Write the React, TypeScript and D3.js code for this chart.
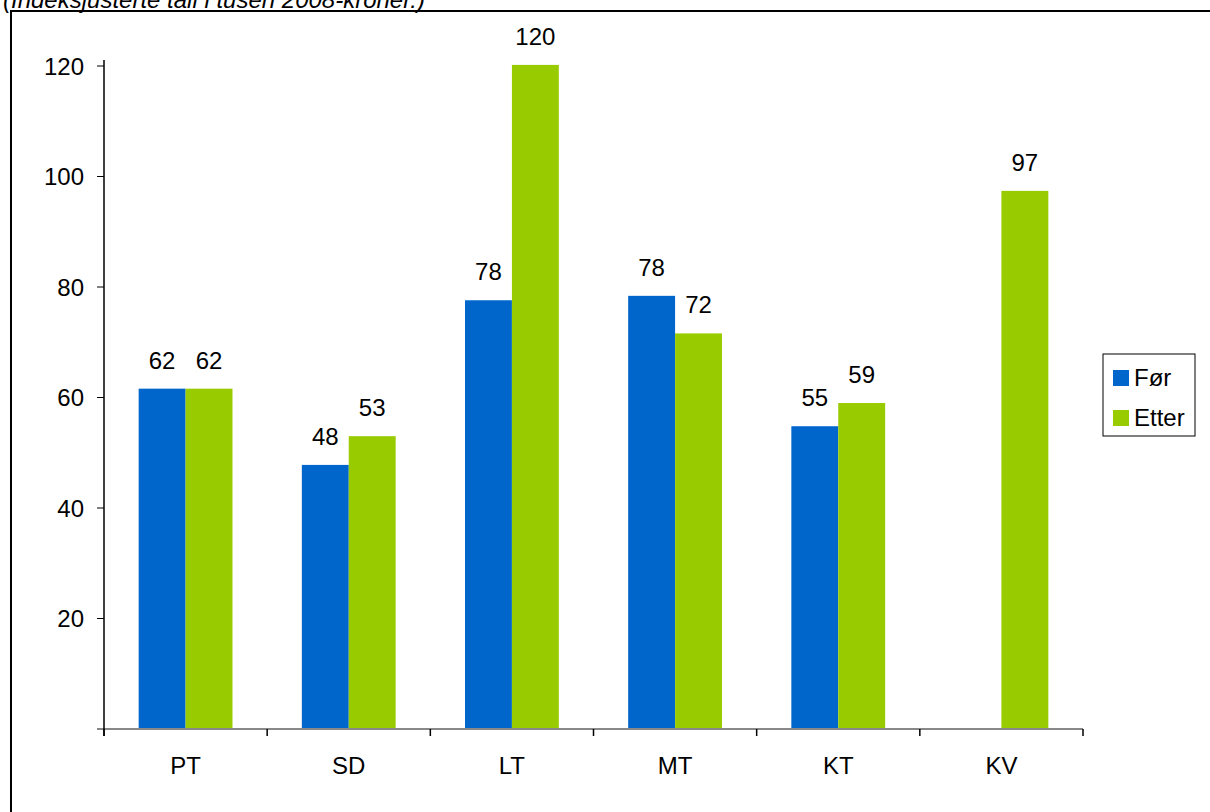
import React from "react";
import * as d3 from "d3";

const categories = ["PT", "SD", "LT", "MT", "KT", "KV"];
const series = ["Før", "Etter"];
const forValues: (number | null)[] = [61.6, 47.8, 77.6, 78.4, 54.8, null];
const etterValues: (number | null)[] = [61.6, 53.0, 120.2, 71.6, 59.0, 97.4];
const yTicks = [20, 40, 60, 80, 100, 120];
const colors = ["#0066cc", "#99cc00"];
const title = "(Indeksjusterte tall i tusen 2008-kroner.)";

const W = 1210;
const H = 812;
const FONT = "'Liberation Sans', Arial, sans-serif";
const FS = 24;

export default function App() {
  const left = 104;
  const right = 1083;
  const top = 66;
  const bottom = 729;

  const x0 = d3.scaleBand<string>().domain(categories).range([left, right]).padding(0);
  const bw = x0.bandwidth();
  const x1 = d3.scaleBand<string>().domain(series).range([bw * 0.2125, bw * 0.7875]).padding(0);
  const y = d3.scaleLinear().domain([0, 120]).range([bottom, top]);

  const data = [forValues, etterValues];

  return (
    <svg width={W} height={H} style={{ position: "absolute", left: 0, top: 0, background: "#fff" }}>
      <rect x={0} y={0} width={W} height={H} fill="#fff" />
      <text x={3} y={8} fontFamily={FONT} fontStyle="italic" fontSize={24} fill="#000">
        {title}
      </text>
      <rect x={11} y={11} width={1210} height={820} fill="none" stroke="#000" strokeWidth={2} />

      {/* bars */}
      {series.map((s, si) =>
        categories.map((c, ci) => {
          const v = data[si][ci];
          if (v == null) return null;
          const bx = (x0(c) as number) + (x1(s) as number);
          return (
            <rect key={s + c} x={bx} y={y(v)} width={x1.bandwidth()} height={y(0) - y(v)} fill={colors[si]} />
          );
        })
      )}

      {/* data labels */}
      {series.map((s, si) =>
        categories.map((c, ci) => {
          const v = data[si][ci];
          if (v == null) return null;
          const cx = (x0(c) as number) + (x1(s) as number) + x1.bandwidth() / 2;
          return (
            <text key={"l" + s + c} x={cx} y={y(v) - 20} textAnchor="middle" fontFamily={FONT} fontSize={FS} fill="#000">
              {Math.round(v)}
            </text>
          );
        })
      )}

      {/* x baseline */}
      <line x1={97} x2={right} y1={bottom} y2={bottom} stroke="#888" strokeWidth={2} />
      {/* y axis */}
      <line x1={left} x2={left} y1={top - 6} y2={bottom + 7} stroke="#000" strokeWidth={1.5} />
      {yTicks.map((t) => (
        <g key={t}>
          <line x1={97} x2={left} y1={y(t)} y2={y(t)} stroke="#000" strokeWidth={1} />
          <text x={84} y={y(t) + 8.5} textAnchor="end" fontFamily={FONT} fontSize={FS} fill="#000">
            {t}
          </text>
        </g>
      ))}
      {/* x ticks */}
      {[...categories.map((c) => x0(c) as number), right].map((xx, i) => (
        <line key={"xt" + i} x1={xx} x2={xx} y1={bottom} y2={bottom + 7} stroke="#000" strokeWidth={1.5} />
      ))}
      {categories.map((c) => (
        <text key={"xl" + c} x={(x0(c) as number) + bw / 2} y={774} textAnchor="middle" fontFamily={FONT} fontSize={FS} fill="#000">
          {c}
        </text>
      ))}

      {/* legend */}
      <rect x={1103} y={354} width={92} height={82} fill="#fff" stroke="#000" strokeWidth={1} />
      {series.map((s, i) => (
        <g key={"lg" + s}>
          <rect x={1113} y={370 + i * 40} width={16} height={16} fill={colors[i]} />
          <text x={1134} y={386 + i * 40} fontFamily={FONT} fontSize={FS} fill="#000">
            {s}
          </text>
        </g>
      ))}
    </svg>
  );
}
